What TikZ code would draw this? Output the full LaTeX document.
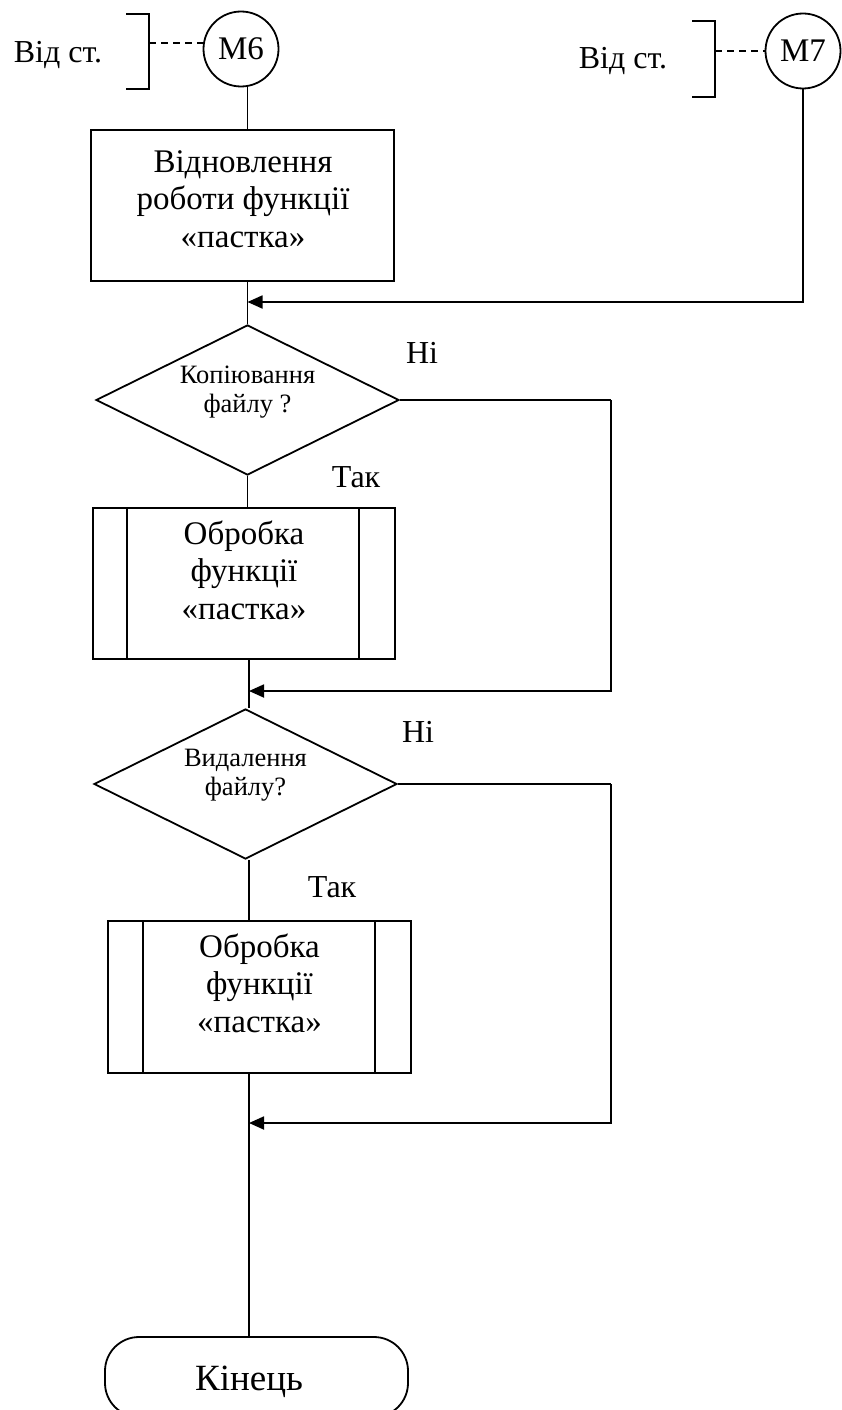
\documentclass[tikz,border=0pt]{standalone}
\usepackage{fontspec}
\setmainfont{Liberation Serif}
\usetikzlibrary{shapes.geometric,arrows.meta}
\begin{document}
\begin{tikzpicture}[x=1pt,y=-1pt,line width=1.8pt,
  txt/.style={font=\fontsize{33}{37.5}\selectfont,inner sep=0pt,align=center},
  dtxt/.style={font=\fontsize{26.5}{29.5}\selectfont,inner sep=0pt,align=center},
  procbox/.style={draw,rectangle,inner sep=0pt},
  decision/.style={draw,diamond,aspect=2,inner sep=0pt,minimum width=303pt,minimum height=150pt},
  conn/.style={draw,circle,inner sep=0pt,minimum size=75pt,font=\fontsize{33}{37.5}\selectfont},
  flowarrow/.style={-{Triangle[length=15pt,width=13pt]}},
  lbl/.style={font=\fontsize{32}{37}\selectfont,inner sep=0pt},
  dashline/.style={line width=1.4pt,dash pattern=on 7pt off 5pt}]
\useasboundingbox (0,0) rectangle (841,1410);

% off-page connectors M6, M7
\node[conn] (m6) at (241,49) {M6};
\node[conn] (m7) at (803,51) {M7};
\node[lbl,anchor=base] (t6) at (58,63) {Від ст.};
\node[lbl,anchor=base] (t7) at (623,69) {Від ст.};
\coordinate (br6) at (149,43);
\coordinate (br7) at (715,51);
\draw (126,14) -- (149,14) -- (149,89) -- (126,89);
\draw (692,21) -- (715,21) -- (715,97) -- (692,97);
\draw[dashline] (br6) -- (m6.west |- br6);
\draw[dashline] (br7) -- (m7.west |- br7);

% boxes
\node[procbox,minimum width=303pt,minimum height=151pt] (b1) at (242.5,205.5) {};
\node[txt] (b1t) at (243,199) {Відновлення\\роботи функції\\«пастка»};

\node[decision] (d1) at (247.5,400) {};
\node[dtxt] (d1t) at (247.5,392) {Копіювання\\файлу ?};

\node[procbox,minimum width=302pt,minimum height=151pt] (b2) at (244,583.5) {};
\draw ([xshift=35pt]b2.north west) -- ([xshift=35pt]b2.south west);
\draw ([xshift=-37pt]b2.north east) -- ([xshift=-37pt]b2.south east);
\node[txt] (b2t) at (244,570) {Обробка\\функції\\«пастка»};

\node[decision] (d2) at (245.5,784) {};
\node[dtxt] (d2t) at (245.5,775) {Видалення\\файлу?};

\node[procbox,minimum width=303pt,minimum height=152pt] (b3) at (259.5,997) {};
\draw ([xshift=36pt]b3.north west) -- ([xshift=36pt]b3.south west);
\draw ([xshift=-37pt]b3.north east) -- ([xshift=-37pt]b3.south east);
\node[txt] (b3t) at (259.5,983) {Обробка\\функції\\«пастка»};

\node[draw,rectangle,rounded corners=34pt,minimum width=303pt,minimum height=80pt,inner sep=0pt] (term) at (256.5,1377) {};
\node[font=\fontsize{37}{42}\selectfont,inner sep=0pt,anchor=base] (termt) at (249,1390) {Кінець};

% labels
\node[lbl] (n1) at (422,353) {Ні};
\node[lbl] (y1) at (356,477) {Так};
\node[lbl] (n2) at (418,732) {Ні};
\node[lbl] (y2) at (332,887) {Так};

% junction points
\coordinate (j1) at (247.5,302);
\coordinate (j2) at (249,691);
\coordinate (j3) at (249,1123);
\coordinate (r1) at (611,400);
\coordinate (r2) at (611,784);

% main flow
\draw (d1.north |- m6.south) -- (d1.north |- b1.north);
\draw (d1.north |- b1.south) -- (d1.north);
\draw (d1.south) -- (d1.south |- b2.north);
\draw (j2 |- b2.south) -- (j2 |- d2.north);
\draw (j3 |- d2.south) -- (j3 |- b3.north);
\draw (j3 |- b3.south) -- (j3 |- term.north);

% return branches
\draw[flowarrow] (m7.south) |- (j1);
\draw (d1.east) -- (r1);
\draw[flowarrow] (r1) |- (j2);
\draw (d2.east) -- (r2);
\draw[flowarrow] (r2) |- (j3);
\end{tikzpicture}
\end{document}
